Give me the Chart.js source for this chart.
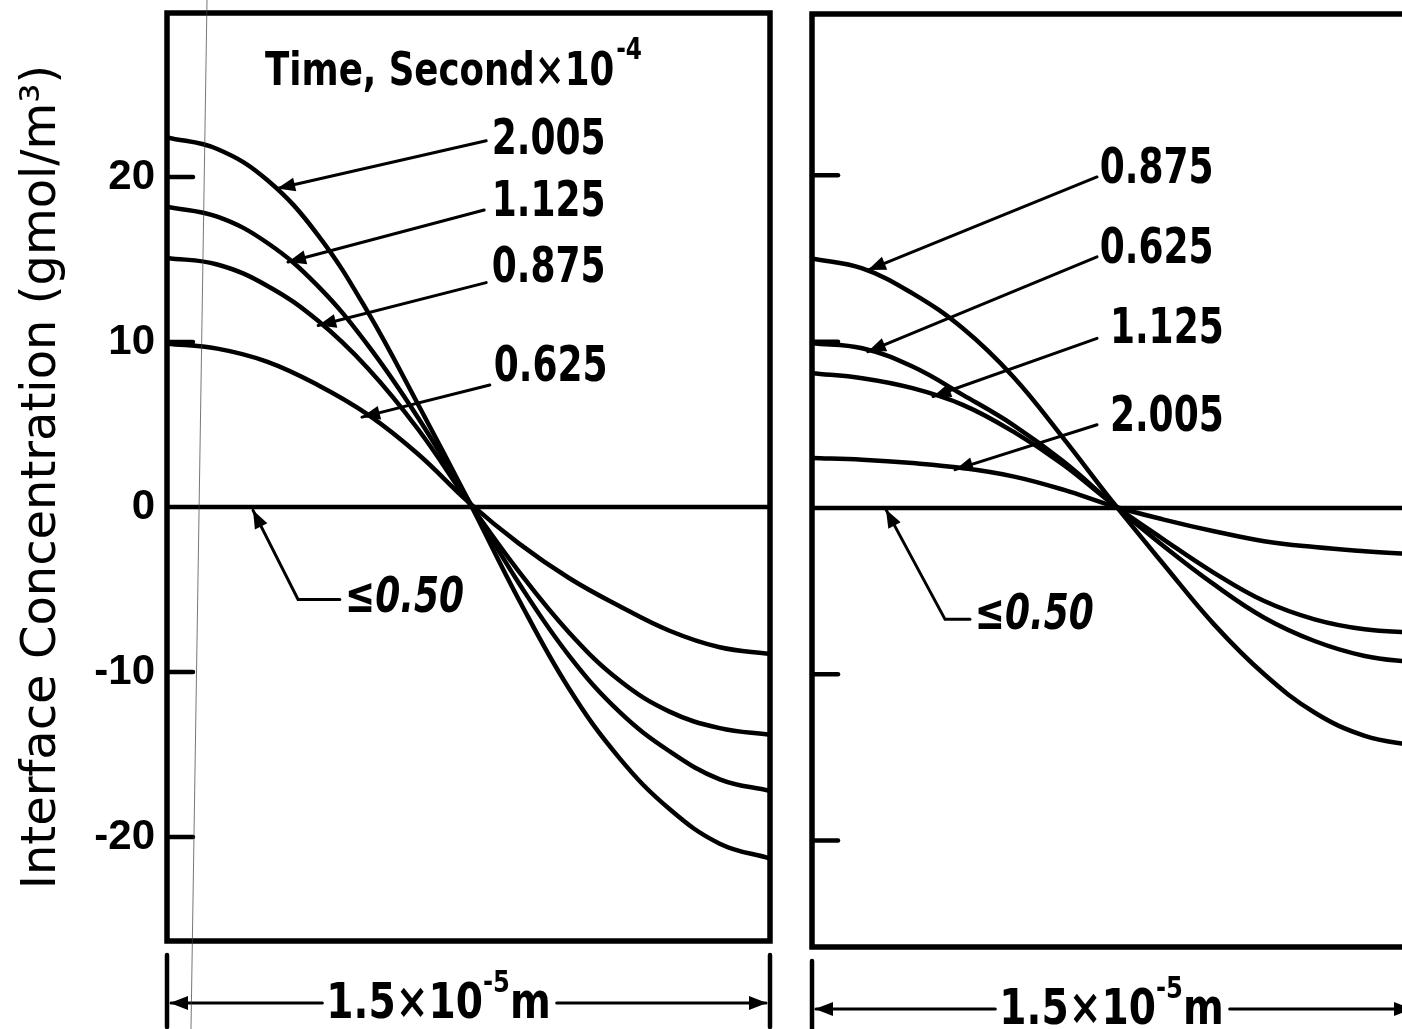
<!doctype html>
<html>
<head>
    <meta charset="UTF-8"/>
    <title>Interface Concentration</title>
    <style type="text/css">
        body {
            margin: 0;
            background: #fff;
            overflow: hidden;
            width: 1402px;
            height: 1029px;
            position: relative;
        }
        .panel { position: absolute; top: 0; }
        #leftBox { left: 0; }
        #rightBox { left: 800px; }
    </style>
</head>
<body>
    <div class="panel" id="leftBox"><canvas id="leftChart" width="800" height="1029"></canvas></div>
    <div class="panel" id="rightBox"><canvas id="rightChart" width="700" height="1029"></canvas></div>

    <script src="https://cdn.jsdelivr.net/npm/chart.js"></script>
    <script>
        // distance across the film, units of 1e-5 m (0 .. 1.5)
        const xValues = [0, 0.125, 0.25, 0.375, 0.5, 0.625, 0.75, 0.875, 1.0, 1.125, 1.25, 1.375, 1.5];
        const yTicks = [-20, -10, 0, 10, 20];

        // left panel, time in seconds x 1e-4
        const left2005 = [22.4, 21.7, 19.8, 16.5, 11.8, 6.2, 0.4, -5.6, -11.0, -15.2, -18.3, -20.4, -21.3];
        const left1125 = [18.2, 17.6, 16.0, 13.4, 9.8, 5.4, 0.4, -4.6, -9.0, -12.4, -14.8, -16.5, -17.2];
        const left0875 = [15.1, 14.7, 13.4, 11.3, 8.4, 4.7, 0.3, -3.9, -7.6, -10.5, -12.4, -13.4, -13.8];
        const left0625 = [9.9, 9.6, 8.8, 7.4, 5.6, 3.2, 0.3, -2.2, -4.3, -6.0, -7.5, -8.5, -8.9];
        const left050 = [0, 0, 0, 0, 0, 0, 0, 0, 0, 0, 0, 0, 0];

        // right panel
        const right0875 = [15.0, 14.4, 12.9, 10.8, 7.9, 4.2, 0.3, -3.4, -7.0, -10.0, -12.3, -13.7, -14.3];
        const right0625 = [9.9, 9.6, 8.5, 6.8, 5.0, 2.8, 0.2, -2.3, -4.6, -6.6, -8.0, -8.9, -9.3];
        const right1125 = [8.1, 7.8, 7.2, 6.2, 4.6, 2.6, 0.2, -1.9, -3.9, -5.6, -6.7, -7.3, -7.5];
        const right2005 = [3.0, 2.9, 2.7, 2.4, 1.9, 1.1, 0.1, -0.7, -1.4, -2.0, -2.35, -2.6, -2.8];
        const right050 = [0, 0, 0, 0, 0, 0, 0, 0, 0, 0, 0, 0, 0];

        const leftLabels = ['2.005', '1.125', '0.875', '0.625', '≤0.50'];
        const rightLabels = ['0.875', '0.625', '1.125', '2.005', '≤0.50'];

        const labelFont = '"DejaVu Sans Condensed", "DejaVu Sans", sans-serif';

        // label anchors and leader paths (data coordinates, last point = arrow tip)
        const leftNotes = [
            { at: [0.808, 22.2], path: [[0.794, 22.2], [0.274, 19.3]] },
            { at: [0.808, 18.4], path: [[0.789, 18.0], [0.301, 14.85]] },
            { at: [0.808, 14.4], path: [[0.794, 13.6], [0.376, 11.0]] },
            { at: [0.813, 8.4], path: [[0.803, 7.4], [0.485, 5.45]] },
            { at: [0.443, -5.6], path: [[0.43, -5.6], [0.326, -5.6], [0.214, -0.2]], italic: true }
        ];
        const rightNotes = [
            { at: [0.716, 20.3], path: [[0.709, 19.9], [0.139, 14.3]] },
            { at: [0.716, 15.5], path: [[0.709, 15.1], [0.139, 9.4]] },
            { at: [0.741, 10.7], path: [[0.709, 10.2], [0.301, 6.7]] },
            { at: [0.741, 5.4], path: [[0.709, 5.0], [0.356, 2.3]] },
            { at: [0.405, -6.5], path: [[0.393, -6.7], [0.331, -6.7], [0.184, -0.1]], italic: true }
        ];

        function makeSet(values, label) {
            return {
                label: label,
                data: xValues.map((x, i) => ({ x: x, y: values[i] })),
                borderColor: '#000',
                borderWidth: 4.5,
                pointRadius: 0,
                tension: 0.4,
                fill: false
            };
        }

        function line(ctx, x1, y1, x2, y2) {
            ctx.beginPath();
            ctx.moveTo(x1, y1);
            ctx.lineTo(x2, y2);
            ctx.stroke();
        }

        function arrowHead(ctx, fx, fy, tx, ty, len, half) {
            const ang = Math.atan2(ty - fy, tx - fx);
            ctx.beginPath();
            ctx.moveTo(tx, ty);
            ctx.lineTo(tx - len * Math.cos(ang) + half * Math.sin(ang), ty - len * Math.sin(ang) - half * Math.cos(ang));
            ctx.lineTo(tx - len * Math.cos(ang) - half * Math.sin(ang), ty - len * Math.sin(ang) + half * Math.cos(ang));
            ctx.closePath();
            ctx.fill();
        }

        // narrow, tall lettering: draw with a horizontal squeeze
        function squeezed(ctx, text, x, y, font, sx) {
            ctx.font = font;
            const w = ctx.measureText(text).width * sx;
            ctx.save();
            ctx.translate(x, y);
            ctx.scale(sx, 1);
            ctx.fillText(text, 0, 0);
            ctx.restore();
            return w;
        }

        // text with superscript parts, centred at cx
        function richText(ctx, parts, cx, cy, size, sx) {
            const fontFor = p => 'bold ' + (p.sup ? Math.round(size * 0.62) : size) + 'px ' + labelFont;
            const widths = parts.map(p => {
                ctx.font = fontFor(p);
                return ctx.measureText(p.t).width * sx;
            });
            const total = widths.reduce((a, b) => a + b, 0);
            let x = cx - total / 2;
            parts.forEach((p, i) => {
                squeezed(ctx, p.t, x, p.sup ? cy - size * 0.42 : cy, fontFor(p), sx);
                x += widths[i];
            });
            return [cx - total / 2, cx + total / 2];
        }

        const notesPlugin = {
            id: 'notes',
            afterDatasetsDraw(chart, args, opts) {
                const ctx = chart.ctx;
                const a = chart.chartArea;
                const xs = chart.scales.x;
                const ys = chart.scales.y;
                ctx.save();
                ctx.strokeStyle = '#000';
                ctx.fillStyle = '#000';
                ctx.lineCap = 'round';

                // frame
                ctx.lineWidth = 5.5;
                ctx.strokeRect(a.left, a.top, a.right - a.left, a.bottom - a.top);

                // inward ticks
                ctx.lineWidth = 4.5;
                yTicks.forEach(v => {
                    if (v === 0) return;
                    const py = ys.getPixelForValue(v);
                    line(ctx, a.left, py, a.left + 26, py);
                });

                // leader lines and labels
                ctx.textBaseline = 'middle';
                ctx.textAlign = 'left';
                opts.notes.forEach((n, i) => {
                    const pts = n.path.map(p => [xs.getPixelForValue(p[0]), ys.getPixelForValue(p[1])]);
                    ctx.lineWidth = 3;
                    ctx.beginPath();
                    pts.forEach((p, k) => k ? ctx.lineTo(p[0], p[1]) : ctx.moveTo(p[0], p[1]));
                    ctx.stroke();
                    const m = pts.length;
                    arrowHead(ctx, pts[m - 2][0], pts[m - 2][1], pts[m - 1][0], pts[m - 1][1], 18, 7);
                    squeezed(ctx, opts.labels[i], xs.getPixelForValue(n.at[0]), ys.getPixelForValue(n.at[1]),
                        (n.italic ? 'italic ' : '') + 'bold 50px ' + labelFont, 0.8);
                });

                // legend heading
                if (opts.heading) {
                    const hx = xs.getPixelForValue(opts.heading[0]);
                    const hy = ys.getPixelForValue(opts.heading[1]);
                    const w = squeezed(ctx, 'Time, Second\u00d710', hx, hy, 'bold 46px ' + labelFont, 0.86);
                    squeezed(ctx, '-4', hx + w + 2, hy - 22, 'bold 30px ' + labelFont, 0.86);
                }

                // dimension arrow below the panel
                const yLine = a.bottom + 62;
                ctx.lineWidth = 4.5;
                line(ctx, a.left, a.bottom + 14, a.left, a.bottom + 86);
                line(ctx, a.right, a.bottom + 14, a.right, a.bottom + 86);
                const cx = (a.left + a.right) / 2 + opts.spanShift;
                const ext = richText(ctx, [{ t: '1.5\u00d710' }, { t: '-5', sup: true }, { t: 'm' }], cx, yLine + 2, 50, 0.87);
                ctx.lineWidth = 3;
                line(ctx, a.left + 4, yLine, ext[0] - 4, yLine);
                line(ctx, ext[1] + 6, yLine, a.right - 4, yLine);
                arrowHead(ctx, a.left + 30, yLine, a.left + 3, yLine, 18, 7);
                arrowHead(ctx, a.right - 30, yLine, a.right - 3, yLine, 18, 7);

                // scanner streak on the left panel
                if (opts.streak) {
                    ctx.strokeStyle = 'rgba(60,60,60,0.7)';
                    ctx.lineWidth = 1;
                    line(ctx, 207, 0, 191, chart.height);
                }
                ctx.restore();
            }
        };

        function panelConfig(sets, yMin, yMax, padding, showAxis, notes, labels, heading, spanShift, streak) {
            return {
                type: 'line',
                data: { datasets: sets },
                options: {
                    responsive: false,
                    animation: false,
                    events: [],
                    layout: { padding: padding },
                    plugins: {
                        legend: { display: false },
                        tooltip: { enabled: false },
                        notes: { notes: notes, labels: labels, heading: heading, spanShift: spanShift, streak: streak }
                    },
                    scales: {
                        x: { type: 'linear', min: 0, max: 1.5, display: false },
                        y: {
                            min: yMin,
                            max: yMax,
                            display: showAxis,
                            afterBuildTicks: axis => { axis.ticks = yTicks.map(v => ({ value: v })); },
                            afterFit: axis => {
                                if (showAxis) axis.width = 167;
                                axis.paddingTop = 0;
                                axis.paddingBottom = 0;
                            },
                            grid: { display: false, drawTicks: false },
                            border: { display: false },
                            ticks: {
                                color: '#000',
                                padding: 12,
                                font: { family: '"Liberation Sans", sans-serif', weight: 'bold', size: 42 }
                            },
                            title: {
                                display: showAxis,
                                text: 'Interface Concentration (gmol/m\u00b3)',
                                color: '#000',
                                font: { family: '"DejaVu Sans", sans-serif', size: 48 },
                                padding: { top: 14, bottom: 0 }
                            }
                        }
                    }
                },
                plugins: [notesPlugin]
            };
        }

        new Chart(document.getElementById('leftChart'), panelConfig(
            [makeSet(left2005, '2.005'), makeSet(left1125, '1.125'), makeSet(left0875, '0.875'),
             makeSet(left0625, '0.625'), makeSet(left050, '≤0.50')],
            -26.3, 29.94, { left: 0, top: 13, right: 30, bottom: 88 }, true,
            leftNotes, leftLabels, [0.244, 26.3], -30, true
        ));

        new Chart(document.getElementById('rightChart'), panelConfig(
            [makeSet(right0875, '0.875'), makeSet(right0625, '0.625'), makeSet(right1125, '1.125'),
             makeSet(right2005, '2.005'), makeSet(right050, '≤0.50')],
            -26.4, 29.7, { left: 12, top: 14, right: 85, bottom: 82 }, false,
            rightNotes, rightLabels, null, -2, false
        ));
    </script>
</body>
</html>
